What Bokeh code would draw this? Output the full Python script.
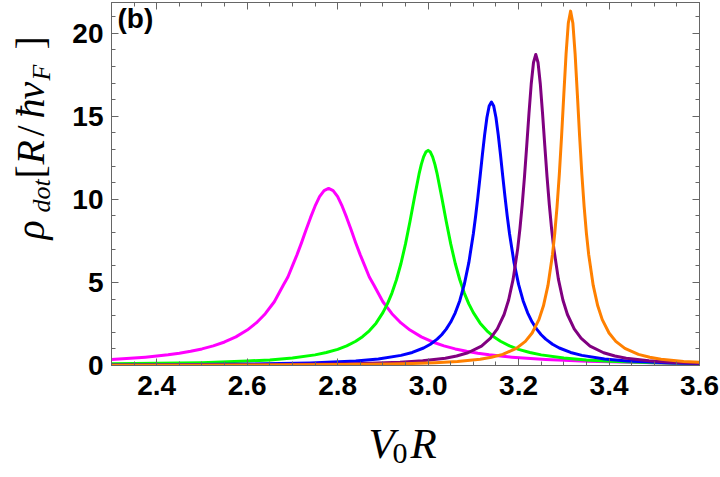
from bokeh.plotting import figure
from bokeh.models import Range1d, LinearAxis, FixedTicker, Label, NumeralTickFormatter
from bokeh.layouts import column, row
from bokeh.embed import file_html
from bokeh.resources import INLINE

# ---- tick labels ----
x_ticks = [2.4, 2.6, 2.8, 3.0, 3.2, 3.4, 3.6]
y_ticks = [0, 5, 10, 15, 20]

# ---- series ----
magenta_x = [2.30, 2.35, 2.375, 2.40, 2.425, 2.45, 2.475, 2.50, 2.525, 2.55, 2.575, 2.60, 2.62, 2.64, 2.66,
             2.68, 2.69, 2.70, 2.71, 2.72, 2.73, 2.74, 2.75, 2.76, 2.77, 2.78, 2.79, 2.80, 2.81, 2.82, 2.83,
             2.84, 2.85, 2.86, 2.87, 2.88, 2.90, 2.92, 2.94, 2.96, 2.985, 3.01, 3.035, 3.06, 3.085, 3.11,
             3.135, 3.16, 3.185, 3.21, 3.26, 3.30, 3.35, 3.40, 3.45, 3.52, 3.60]
magenta_y = [0.362, 0.447, 0.502, 0.566, 0.644, 0.738, 0.854, 0.998, 1.181, 1.416, 1.723, 2.132, 2.562, 3.117, 3.838,
             4.85, 5.33, 6.00, 6.66, 7.38, 8.15, 8.90, 9.59, 10.16, 10.53, 10.66, 10.53, 10.16, 9.59, 8.90, 8.15,
             7.38, 6.66, 6.00, 5.33, 4.85, 3.838, 3.117, 2.562, 2.132, 1.723, 1.416, 1.181, 0.998, 0.854, 0.738,
             0.644, 0.566, 0.502, 0.447, 0.362, 0.310, 0.259, 0.220, 0.189, 0.155, 0.127]

green_x = [2.30, 2.40, 2.50, 2.60, 2.65, 2.70, 2.75, 2.775, 2.80, 2.82, 2.84, 2.855, 2.87, 2.885, 2.90, 2.91,
           2.92, 2.93, 2.94, 2.95, 2.96, 2.97, 2.98, 2.985, 2.99, 2.995, 3.00, 3.005, 3.01, 3.015, 3.02, 3.03,
           3.04, 3.05, 3.06, 3.07, 3.08, 3.09, 3.10, 3.115, 3.13, 3.145, 3.16, 3.18, 3.20, 3.225, 3.25, 3.30,
           3.35, 3.40, 3.50, 3.60]
green_y = [0.11, 0.13, 0.17, 0.27, 0.335, 0.451, 0.640, 0.781, 0.973, 1.181, 1.459, 1.734, 2.09, 2.55, 3.18, 3.71,
           4.36, 5.16, 6.14, 7.32, 8.68, 10.14, 11.53, 12.11, 12.56, 12.85, 12.95, 12.85, 12.56, 12.11, 11.53, 10.14,
           8.68, 7.32, 6.14, 5.16, 4.36, 3.71, 3.18, 2.55, 2.09, 1.734, 1.459, 1.181, 0.973, 0.781, 0.640, 0.451,
           0.335, 0.258, 0.166, 0.116]

blue_x = [2.30, 2.44, 2.54, 2.64, 2.74, 2.79, 2.84, 2.89, 2.94, 2.965, 2.99, 3.005, 3.02, 3.03, 3.04, 3.05,
          3.06, 3.07, 3.08, 3.09, 3.10, 3.105, 3.11, 3.115, 3.12, 3.125, 3.13, 3.135, 3.14, 3.145, 3.15, 3.155,
          3.16, 3.165, 3.17, 3.175, 3.18, 3.19, 3.20, 3.21, 3.22, 3.23, 3.24, 3.25, 3.26, 3.275, 3.29, 3.315,
          3.34, 3.39, 3.44, 3.49, 3.54, 3.60]
blue_y = [0.036, 0.052, 0.070, 0.101, 0.157, 0.204, 0.277, 0.396, 0.610, 0.787, 1.053, 1.280, 1.586, 1.852, 2.19, 2.616,
          3.172, 3.90, 4.88, 6.19, 7.93, 8.98, 10.15, 11.40, 12.69, 13.90, 14.93, 15.62, 15.86, 15.62, 14.93, 13.90,
          12.69, 11.40, 10.15, 8.98, 7.93, 6.19, 4.88, 3.90, 3.172, 2.616, 2.19, 1.852, 1.586, 1.280, 1.053, 0.787,
          0.610, 0.396, 0.277, 0.204, 0.157, 0.119]

purple_x = [2.30, 2.538, 2.738, 2.838, 2.888, 2.938, 2.988, 3.038, 3.063, 3.088, 3.118, 3.138, 3.153, 3.168,
            3.178, 3.188, 3.198, 3.203, 3.208, 3.213, 3.218, 3.223, 3.228, 3.233, 3.238, 3.243, 3.248, 3.253,
            3.258, 3.263, 3.268, 3.273, 3.278, 3.288, 3.298, 3.308, 3.323, 3.338, 3.358, 3.388, 3.413, 3.438,
            3.488, 3.538, 3.60]
purple_y = [0.020, 0.037, 0.072, 0.112, 0.146, 0.198, 0.283, 0.439, 0.570, 0.767, 1.171, 1.641, 2.198, 3.07,
            3.944, 5.20, 7.02, 8.23, 9.67, 11.34, 13.22, 15.17, 16.96, 18.24, 18.72, 18.24, 16.96, 15.17,
            13.22, 11.34, 9.67, 8.23, 7.02, 5.20, 3.944, 3.07, 2.198, 1.641, 1.171, 0.767, 0.570, 0.439,
            0.283, 0.198, 0.136]

orange_x = [2.30, 2.615, 2.815, 2.915, 2.965, 3.015, 3.065, 3.115, 3.14, 3.165, 3.195, 3.215, 3.23, 3.245,
            3.255, 3.265, 3.275, 3.28, 3.285, 3.29, 3.295, 3.30, 3.305, 3.31, 3.315, 3.32, 3.325, 3.33, 3.335,
            3.34, 3.345, 3.35, 3.355, 3.365, 3.375, 3.385, 3.40, 3.415, 3.435, 3.465, 3.49, 3.515, 3.565, 3.60]
orange_y = [0.015, 0.032, 0.062, 0.097, 0.126, 0.171, 0.246, 0.382, 0.496, 0.669, 1.028, 1.449, 1.955, 2.76,
            3.592, 4.82, 6.68, 7.96, 9.55, 11.48, 13.77, 16.30, 18.76, 20.62, 21.33, 20.62, 18.76, 16.30, 13.77,
            11.48, 9.55, 7.96, 6.68, 4.82, 3.592, 2.76, 1.955, 1.449, 1.028, 0.669, 0.496, 0.382, 0.246, 0.190]

series = [
    (magenta_x, magenta_y, "#FF00FF"),
    (green_x, green_y, "#00FF00"),
    (blue_x, blue_y, "#0000FF"),
    (purple_x, purple_y, "#800080"),
    (orange_x, orange_y, "#FF8000"),
]

FRAME = "#666666"

# ---------------- main plot ----------------
p = figure(width=660, height=410, output_backend="svg", toolbar_location=None,
           x_range=Range1d(2.3, 3.6), y_range=Range1d(0, 21.85),
           min_border_left=51, min_border_right=21, min_border_top=2, min_border_bottom=45)
p.xgrid.visible = False
p.ygrid.visible = False
p.outline_line_color = FRAME
p.outline_line_width = 1
p.background_fill_color = "white"
p.border_fill_color = "white"

p.add_layout(LinearAxis(), "above")
p.add_layout(LinearAxis(), "right")

x_minor = [round(2.3 + 0.05 * i, 2) for i in range(27)]
y_minor = list(range(0, 22))

for ax in p.xaxis:
    ax.ticker = FixedTicker(ticks=x_ticks, minor_ticks=x_minor)
    ax.formatter = NumeralTickFormatter(format="0.0")
for ax in p.yaxis:
    ax.ticker = FixedTicker(ticks=y_ticks, minor_ticks=y_minor)

for ax in list(p.xaxis) + list(p.yaxis):
    ax.axis_line_color = FRAME
    ax.major_tick_line_color = FRAME
    ax.minor_tick_line_color = FRAME
    ax.major_tick_in = 7
    ax.major_tick_out = 0
    ax.minor_tick_in = 4
    ax.minor_tick_out = 0
    ax.major_label_text_font = "Liberation Sans"
    ax.major_label_text_font_style = "bold"
    ax.major_label_text_font_size = "28px"
    ax.major_label_text_color = "black"

p.below[0].major_label_standoff = 10
p.left[0].major_label_standoff = 8
for ax in (p.above[0], p.right[0]):
    ax.major_label_text_font_size = "0px"
    ax.major_label_text_color = None
    ax.major_label_standoff = 0

for xs, ys, c in series:
    p.line(xs, ys, line_color=c, line_width=3, line_join="round", line_cap="round")


def add_text(fig, txt, x, y, size, style="italic", font="Liberation Serif", angle=0.0):
    fig.add_layout(Label(x=x, y=y, x_units="screen", y_units="screen", text=txt,
                         text_font=font, text_font_size=f"{size}px", text_font_style=style,
                         angle=angle, text_align="left", text_baseline="alphabetic",
                         text_color="black"))


# panel tag
add_text(p, "(b)", 6, 347, 28, style="bold", font="Liberation Sans")


def blank(w, h):
    f = figure(width=w, height=h, output_backend="svg", toolbar_location=None,
               x_range=Range1d(0, w), y_range=Range1d(0, h),
               x_axis_type=None, y_axis_type=None, min_border=0)
    f.outline_line_color = None
    f.grid.visible = False
    f.background_fill_color = "white"
    f.border_fill_color = "white"
    return f


# ---------------- y-axis title: rho_dot [ R / hbar v_F ] ----------------
ylab = blank(60, 410)
ang = 1.5707963
MAIN, SUB = 40, 26
bx = 30      # main baseline
sx = 41      # subscript baseline
add_text(ylab, "ρ", bx, 126, MAIN, angle=ang)
add_text(ylab, "dot", sx, 153, SUB, angle=ang)
add_text(ylab, "[", bx, 187, MAIN, style="normal", angle=ang)
add_text(ylab, "R", bx, 201, MAIN, angle=ang)
add_text(ylab, "/", bx, 229, MAIN, style="normal", angle=ang)
add_text(ylab, "ħ", bx, 247, MAIN, angle=ang)
add_text(ylab, "v", bx, 266, MAIN, angle=ang)
add_text(ylab, "F", sx, 285, SUB, angle=ang)
add_text(ylab, "]", bx, 316, MAIN, style="normal", angle=ang)

# ---------------- x-axis title: V_0 R ----------------
xlab = blank(720, 67)
add_text(xlab, "V", 368, 34.5, 43)
add_text(xlab, "0", 392, 24, 30, style="normal")
add_text(xlab, "R", 410, 34.5, 43)

layout = column(row(ylab, p), xlab)

open("out.html", "w").write(file_html(layout, INLINE))
